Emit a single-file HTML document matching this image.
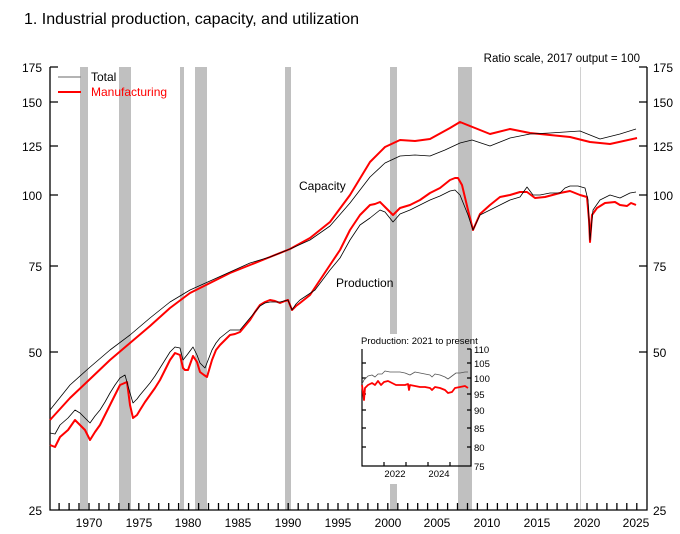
<!DOCTYPE html>
<html><head><meta charset="utf-8"><style>
body{margin:0;background:#fff}
svg{display:block;font-family:"Liberation Sans",sans-serif}
</style></head><body>
<svg width="680" height="534" viewBox="0 0 680 534">
<text x="24" y="24" font-size="16">1.  Industrial production, capacity, and utilization</text>
<text x="640" y="62" font-size="11.5" text-anchor="end">Ratio scale, 2017 output = 100</text>
<!-- recession bars -->
<g fill="#c0c0c0">
<rect x="80" y="67" width="8" height="443"/>
<rect x="119" y="67" width="12" height="443"/>
<rect x="180" y="67" width="4" height="443"/>
<rect x="195" y="67" width="12" height="443"/>
<rect x="285" y="67" width="6" height="443"/>
<rect x="390" y="67" width="7" height="443"/>
</g>
<rect x="580" y="67" width="1" height="443" fill="#d0d0d0"/>
<!-- inset bg -->
<rect x="352" y="334" width="106" height="150" fill="#fff"/>
<rect x="458" y="67" width="14" height="443" fill="#c0c0c0"/>
<!-- axes -->
<g stroke="#000" stroke-width="1.3" fill="none">
<path d="M50,67V510H647V67"/>
<path d="M50,67h8M50,102h8M50,146h8M50,195h8M50,266h8M50,352h8M639,67h8M639,102h8M639,146h8M639,195h8M639,266h8M639,352h8"/>
<path id="xt" d=""/>
</g>
<g font-size="12" text-anchor="end">
<text x="42" y="72">175</text><text x="42" y="107">150</text><text x="42" y="151">125</text><text x="42" y="200">100</text><text x="42" y="271">75</text><text x="42" y="357">50</text><text x="42" y="515">25</text>
</g>
<g font-size="12">
<text x="653" y="72">175</text><text x="653" y="107">150</text><text x="653" y="151">125</text><text x="653" y="200">100</text><text x="653" y="271">75</text><text x="653" y="357">50</text><text x="653" y="515">25</text>
</g>
<g font-size="12" text-anchor="middle">
<text x="89" y="527">1970</text><text x="139" y="527">1975</text><text x="188" y="527">1980</text><text x="238" y="527">1985</text><text x="288" y="527">1990</text><text x="338" y="527">1995</text><text x="388" y="527">2000</text><text x="437" y="527">2005</text><text x="487" y="527">2010</text><text x="537" y="527">2015</text><text x="587" y="527">2020</text><text x="636" y="527">2025</text>
</g>
<!-- legend -->
<line x1="58" y1="77" x2="81" y2="77" stroke="#888" stroke-width="1.3"/>
<text x="91" y="81" font-size="12">Total</text>
<line x1="58" y1="92" x2="81" y2="92" stroke="#f00" stroke-width="2"/>
<text x="91" y="96" font-size="12" fill="#f00">Manufacturing</text>
<text x="299" y="190" font-size="12">Capacity</text>
<text x="336" y="287" font-size="12">Production</text>
<!-- series -->
<g fill="none" stroke-linejoin="round">
<polyline stroke="#f00" stroke-width="2" points="50,420 70,398 89,380 110,360 130,343 150,326 170,308 190,293 210,283 230,273 250,265 270,257 290,249 310,238 330,222 350,195 370,162 385,147 400,140 415,141 430,139 450,128 460,122 475,128 490,134 510,129 530,133 550,135 570,137 590,142 610,144 637,138"/>
<polyline stroke="#000" stroke-width="0.8" points="50,410 70,385 89,368 110,350 130,335 150,318 170,302 190,290 210,281 230,272 250,263 270,257 290,249 310,240 330,226 350,203 370,177 385,163 400,156 415,155 430,156 445,150 460,143 472,140 490,146 510,138 530,134 550,133 580,131 600,139 620,134 636,129"/>
<polyline stroke="#f00" stroke-width="2" points="50,445 55,447 60,437 68,430 75,420 80,425 85,430 90,440 95,432 100,425 105,415 110,405 115,395 120,385 127,382 130,405 133,418 137,415 140,410 145,402 150,395 155,388 160,380 165,370 170,360 175,353 180,355 183,368 185,370 188,370 193,356 197,362 200,372 204,375 207,377 212,360 216,350 220,345 225,340 230,335 235,334 240,332 245,326 250,320 255,312 260,305 265,302 270,300 275,301 280,303 285,301 288,300 292,310 296,306 300,303 310,295 320,280 330,265 340,250 350,230 360,215 370,205 375,204 380,202 385,207 393,215 400,208 410,205 420,200 430,193 440,188 445,184 450,180 455,178 458,178 462,185 468,210 473,230 480,214 490,205 500,197 510,195 520,192 527,192 535,198 545,197 560,193 570,191 580,195 587,197 589,220 590,242 592,215 597,208 605,203 615,202 620,205 627,206 631,203 636,205"/>
<polyline stroke="#000" stroke-width="0.8" points="50,433 55,434 60,425 68,418 75,410 80,413 85,418 90,423 95,416 100,410 105,402 110,393 115,385 120,378 125,375 130,393 133,403 137,399 140,395 145,389 150,383 155,376 160,368 165,360 170,352 175,347 180,348 183,360 187,355 193,347 197,355 200,363 205,368 212,350 216,343 220,338 225,334 230,330 240,330 245,324 250,318 255,312 260,306 265,303 270,302 280,302 288,300 292,310 296,304 300,300 315,290 330,270 340,258 350,240 360,225 370,218 380,210 385,212 393,222 400,214 410,210 420,205 430,200 440,196 450,191 455,190 460,195 468,215 473,230 480,215 490,210 500,205 510,200 520,197 527,187 533,195 540,195 550,193 560,193 565,188 570,186 578,186 585,188 588,200 590,240 593,210 600,200 610,195 620,198 630,193 636,192"/>
</g>
<!-- inset -->
<text x="361" y="344" font-size="9.5">Production: 2021 to present</text>
<g stroke="#000" stroke-width="1.2" fill="none">
<path d="M362,349V466H471V349"/>
<path d="M362,363h4M362,378h4M362,394h4M362,410h4M362,428h4M362,447h4M467,349h4M467,363h4M467,378h4M467,394h4M467,410h4M467,428h4M467,447h4M384,466v-4M406,466v-4M428,466v-4M450,466v-4"/>
</g>
<g font-size="9.5">
<text x="474" y="353">110</text><text x="474" y="367">105</text><text x="474" y="382">100</text><text x="474" y="398">95</text><text x="474" y="414">90</text><text x="474" y="432">85</text><text x="474" y="451">80</text><text x="474" y="470">75</text>
</g>
<g font-size="9.5" text-anchor="middle"><text x="395" y="477">2022</text><text x="439" y="477">2024</text></g>
<g fill="none" stroke-linejoin="round">
<polyline stroke="#f00" stroke-width="1.8" points="362,385 363,392 364,400 365,388 368,385 372,383 375,385 378,381 381,385 384,382 388,381 392,383 396,385 400,385 405,385 408,384 409,390 410,385 415,386 420,387 425,387 430,388 432,390 435,387 440,388 445,390 448,393 452,392 455,388 460,387 465,386 468,388"/>
<polyline stroke="#555" stroke-width="0.8" points="362,384 364,380 368,376 372,375 375,377 378,374 382,374 385,371 390,372 395,372 400,372 405,373 410,375 415,372 420,373 425,374 430,375 432,377 435,374 440,375 445,377 448,379 452,376 456,373 460,373 465,372 468,372"/>
</g>
<script>
var d="";for(var y=1967;y<=2025;y++){var x=89+(y-1970)*9.96;d+="M"+x.toFixed(1)+",510v-7";}
document.getElementById("xt").setAttribute("d",d);
</script>
</svg>
</body></html>
